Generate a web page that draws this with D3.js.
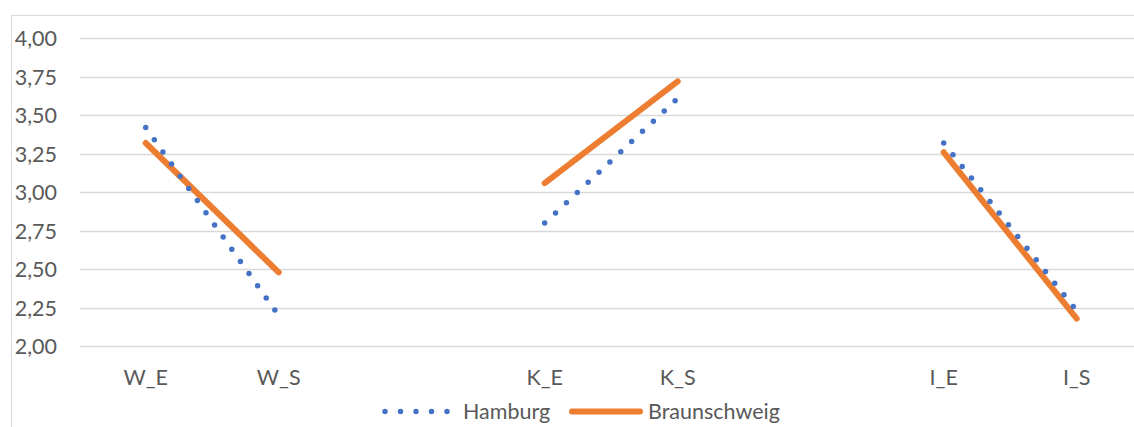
<!DOCTYPE html>
<html>
<head>
<meta charset="utf-8">
<script src="https://cdn.jsdelivr.net/npm/d3@7"></script>
<style>
  html, body { margin: 0; padding: 0; background: #fff; }
  svg { display: block; }
  text { font-family: Lato, "Open Sans", sans-serif; fill: #595959; }
</style>
</head>
<body>
<svg id="chart" width="1134" height="427"></svg>
<script>
// Category labels along the x axis (blank slots separate the groups)
const categories = ["W_E", "W_S", "", "K_E", "K_S", "", "I_E", "I_S"];
// Mean values per category; null where a slot is left empty
const hamburg      = [3.42, 2.20, null, 2.80, 3.61, null, 3.32, 2.23];
const braunschweig = [3.32, 2.48, null, 3.06, 3.72, null, 3.26, 2.18];
// Value axis ticks
const yTicks = [2.00, 2.25, 2.50, 2.75, 3.00, 3.25, 3.50, 3.75, 4.00];

const series = [
  { name: "Hamburg", values: hamburg, color: "#4472C4", dotted: true },
  { name: "Braunschweig", values: braunschweig, color: "#ED7D31", dotted: false }
];

const svg = d3.select("#chart");
const W = 1134, H = 427;
const FS = 21.5;

// Chart frame
svg.append("rect")
  .attr("x", 11.5).attr("y", 15.5)
  .attr("width", W + 20).attr("height", H + 20)
  .attr("fill", "#fff").attr("stroke", "#d9d9d9").attr("stroke-width", 1);

const x = d3.scaleBand()
  .domain(d3.range(categories.length))
  .range([79.2, 1143.2])
  .padding(0);

const y = d3.scaleLinear().domain([2, 4]).range([346.3, 38.3]);

// Horizontal gridlines
svg.append("g")
  .selectAll("line")
  .data(yTicks)
  .join("line")
  .attr("x1", 80).attr("x2", W)
  .attr("y1", d => Math.round(y(d)) + 0.5)
  .attr("y2", d => Math.round(y(d)) + 0.5)
  .attr("stroke", "#d9d9d9").attr("stroke-width", 1.3);

// Y axis labels
const fmt = d => d3.format(".2f")(d).replace(".", ",");
const yAxis = d3.axisLeft(y).tickValues(yTicks).tickFormat(fmt).tickSize(0).tickPadding(0);
const gy = svg.append("g").attr("transform", "translate(57,0)").call(yAxis);
gy.select(".domain").remove();
gy.selectAll("text")
  .attr("font-size", FS)
  .attr("font-family", "Lato, sans-serif")
  .attr("fill", "#595959")
  .attr("dy", "0.34em");

// X axis labels
const xAxis = d3.axisBottom(x).tickFormat(i => categories[i]).tickSize(0).tickPadding(0);
const gx = svg.append("g").attr("transform", "translate(0,0)").call(xAxis);
gx.select(".domain").remove();
gx.selectAll("text")
  .attr("font-size", FS)
  .attr("font-family", "Lato, sans-serif")
  .attr("fill", "#595959")
  .attr("y", 385).attr("dy", null);

const line = d3.line()
  .defined(d => d != null)
  .x((d, i) => x(i) + x.bandwidth() / 2)
  .y(d => y(d));

// Series lines: Braunschweig solid, Hamburg round-dotted on top
const order = [series[1], series[0]];
svg.append("g")
  .selectAll("path")
  .data(order)
  .join("path")
  .attr("fill", "none")
  .attr("stroke", d => d.color)
  .attr("stroke-width", d => d.dotted ? 5.5 : 6)
  .attr("stroke-linecap", "round")
  .attr("stroke-linejoin", "round")
  .attr("stroke-dasharray", d => d.dotted ? "0,14.9" : null)
  .attr("d", d => line(d.values));

// Legend
const legend = svg.append("g");
const items = [
  { s: series[0], x1: 385, x2: 449, tx: 463 },
  { s: series[1], x1: 572, x2: 640, tx: 648 }
];
items.forEach(it => {
  legend.append("line")
    .attr("x1", it.x1).attr("x2", it.x2)
    .attr("y1", 411.5).attr("y2", 411.5)
    .attr("stroke", it.s.color)
    .attr("stroke-width", it.s.dotted ? 5.5 : 6)
    .attr("stroke-linecap", "round")
    .attr("stroke-dasharray", it.s.dotted ? "0,15.5" : null);
  legend.append("text")
    .attr("x", it.tx).attr("y", 418.5)
    .attr("font-size", FS)
    .text(it.s.name);
});
</script>
</body>
</html>
